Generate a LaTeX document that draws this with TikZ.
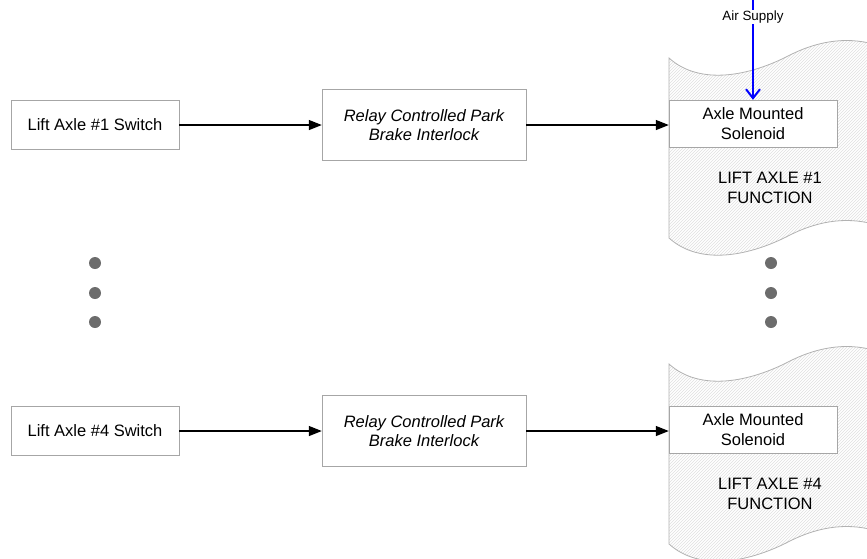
\documentclass[tikz,border=0pt]{standalone}
\usepackage{fontspec}
\setmainfont{Liberation Sans}
\usetikzlibrary{arrows.meta,patterns}

\tikzset{
  box/.style={draw=gray!70,fill=white,inner sep=0pt,align=center,
    font=\fontsize{16.5}{19.5}\selectfont},
  conn/.style={line width=1.3pt,-{Triangle[length=13pt,width=10pt]}},
  airline/.style={blue,line width=2pt,-{Straight Barb[length=9pt,width=14pt]}},
  func/.style={draw=gray!60,line width=0.8pt,pattern=north east lines,pattern color=gray!25},
  dot/.style={fill=gray!85!black}
}

\begin{document}
\begin{tikzpicture}[x=1pt,y=-1pt]
\useasboundingbox (0,0) rectangle (867,558);

% Function shapes (wavy), clipped at the right edge
\begin{scope}
\clip (0,0) rectangle (867,558);
\draw[func] (669,58) .. controls (700,86) and (750,76) .. (790,55)
  .. controls (820,40) and (850,36) .. (880,46) -- (880,226)
  .. controls (850,216) and (820,220) .. (790,235)
  .. controls (750,256) and (700,266) .. (669,238) -- cycle;
\draw[func,shift={(0,306)}] (669,58) .. controls (700,86) and (750,76) .. (790,55)
  .. controls (820,40) and (850,36) .. (880,46) -- (880,226)
  .. controls (850,216) and (820,220) .. (790,235)
  .. controls (750,256) and (700,266) .. (669,238) -- cycle;
\end{scope}

% Row 1
\node[box,minimum width=168pt,minimum height=49pt] (sw1) at (95,125) {Lift Axle \#1 Switch};
\node[box,minimum width=204pt,minimum height=71pt] (rel1) at (424,125)
  {\itshape Relay Controlled Park\\\itshape Brake Interlock};
\node[box,minimum width=168pt,minimum height=47pt] (sol1) at (753,123.5) {Axle Mounted\\Solenoid};
\node[align=center,font=\fontsize{16.5}{19.5}\selectfont] (fn1) at (770,188) {LIFT AXLE \#1\\FUNCTION};
\draw[conn] (sw1.east) -- (rel1.west);
\draw[conn] (rel1.east) -- (rel1.east -| sol1.west);

% Air supply
\coordinate (air) at (753,0);
\draw[airline] (air) -- (sol1.north);
\node[fill=white,inner sep=1pt,font=\fontsize{13.4}{15}\selectfont] (airlbl) at (753,17) {Air Supply};

% Row 4
\node[box,minimum width=168pt,minimum height=49pt] (sw4) at (95,431) {Lift Axle \#4 Switch};
\node[box,minimum width=204pt,minimum height=71pt] (rel4) at (424,431)
  {\itshape Relay Controlled Park\\\itshape Brake Interlock};
\node[box,minimum width=168pt,minimum height=47pt] (sol4) at (753,429.5) {Axle Mounted\\Solenoid};
\node[align=center,font=\fontsize{16.5}{19.5}\selectfont] (fn4) at (770,494) {LIFT AXLE \#4\\FUNCTION};
\draw[conn] (sw4.east) -- (rel4.west);
\draw[conn] (rel4.east) -- (rel4.east -| sol4.west);

% Ellipsis dots
\fill[dot] (95,263) circle (6);
\fill[dot] (95,293) circle (6);
\fill[dot] (95,322) circle (6);
\fill[dot] (771,263) circle (6);
\fill[dot] (771,293) circle (6);
\fill[dot] (771,322) circle (6);
\end{tikzpicture}
\end{document}
